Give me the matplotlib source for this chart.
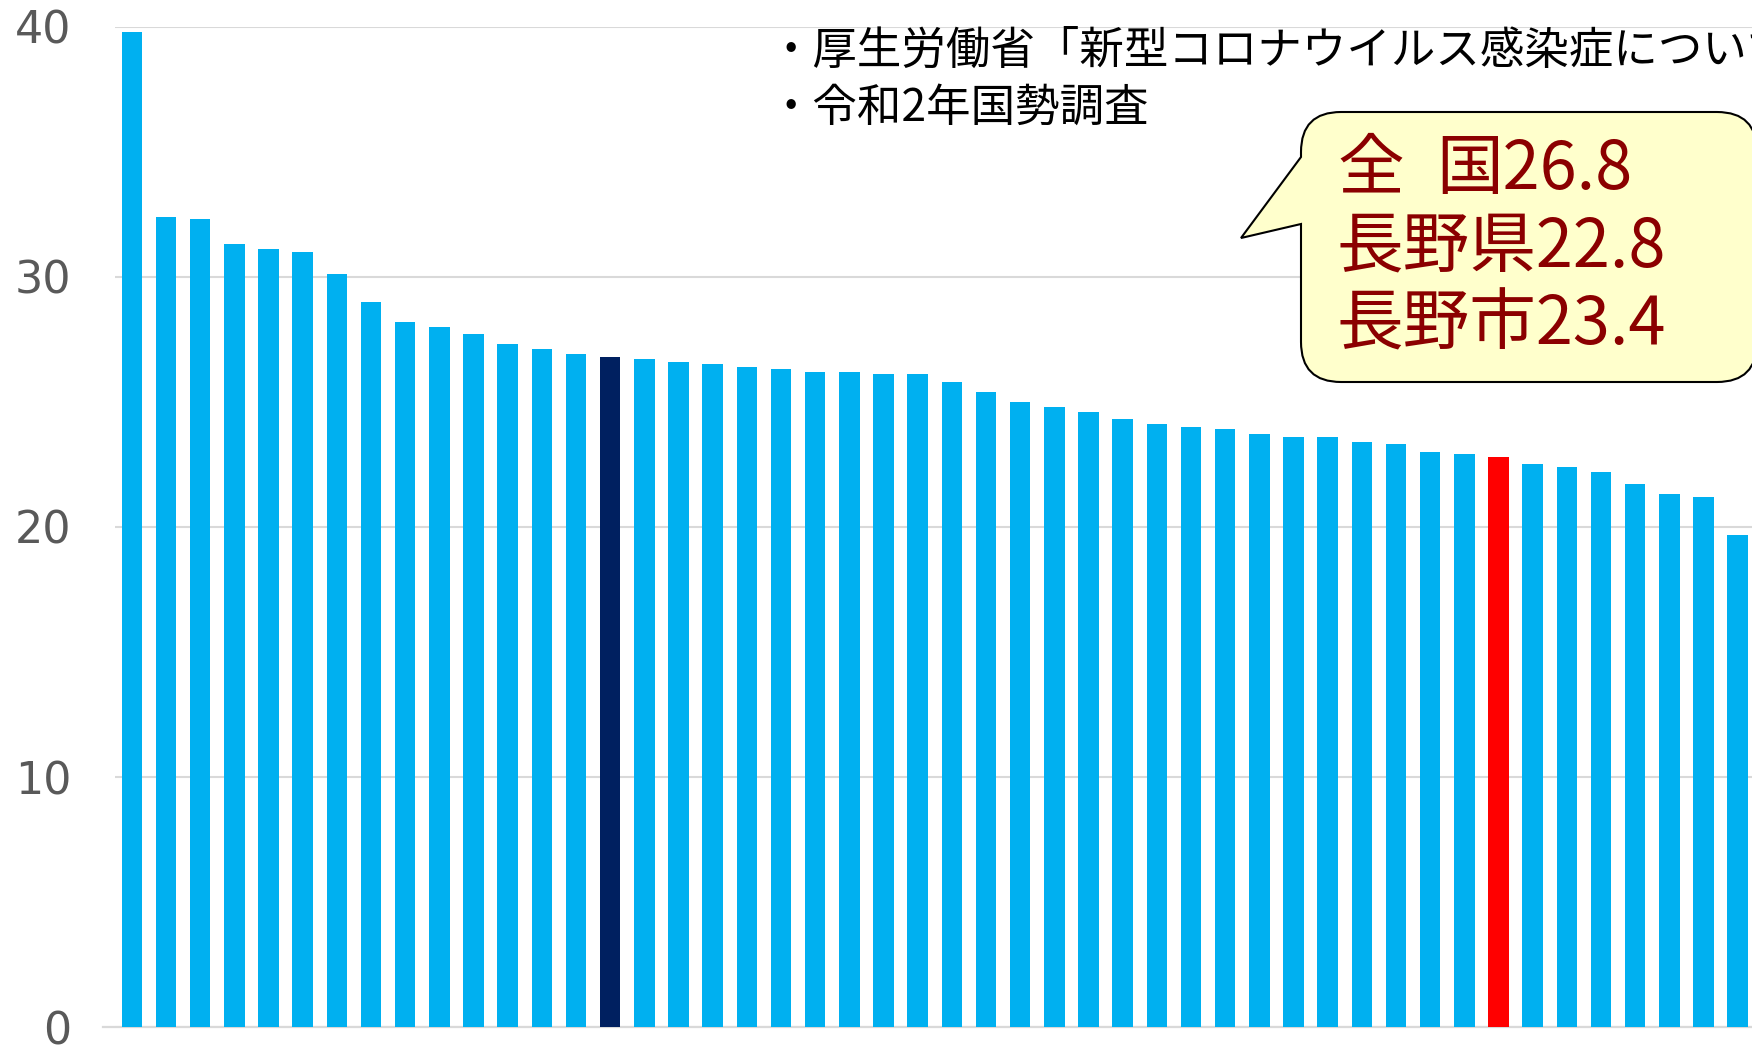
import numpy as np
import matplotlib
matplotlib.use("Agg")
import matplotlib.pyplot as plt
import matplotlib.path as mpath
import matplotlib.patches as mpatches
from matplotlib.transforms import Affine2D

plt.rcParams['font.family'] = ['Noto Sans CJK JP', 'DejaVu Sans']

# --- DATA: Werte je Präfektur (absteigend), inkl. Landesdurchschnitt ---
values = [39.8, 32.4, 32.3, 31.3, 31.1, 31.0, 30.1, 29.0, 28.2, 28.0,
          27.7, 27.3, 27.1, 26.9, 26.8, 26.7, 26.6, 26.5, 26.4, 26.3,
          26.2, 26.2, 26.1, 26.1, 25.8, 25.4, 25.0, 24.8, 24.6, 24.3,
          24.1, 24.0, 23.9, 23.7, 23.6, 23.6, 23.4, 23.3, 23.0, 22.9,
          22.8, 22.5, 22.4, 22.2, 21.7, 21.3, 21.2, 19.7]
national_idx = 14   # 全国 26.8
nagano_idx = 40     # 長野県 22.8
y_ticks = [0, 10, 20, 30, 40]
source_lines = ["・厚生労働省「新型コロナウイルス感染症について」", "・令和2年国勢調査"]
callout_names = ["全", "長野県", "長野市"]
callout_values = ["26.8", "22.8", "23.4"]

W, H = 1752, 1046
fig = plt.figure(figsize=(W / 100, H / 100), dpi=100)
ax = fig.add_axes([114.8 / W, 18.7 / H, 1640 / W, 1000.6 / H])

colors = ['#00B0F0'] * len(values)
colors[national_idx] = '#002060'
colors[nagano_idx] = '#FF0000'
x = np.arange(len(values))
ax.bar(x, values, width=0.6, color=colors, zorder=3)

ax.set_xlim(-0.5, len(values) - 0.5)
ax.set_ylim(0, 40)
ax.set_yticks(y_ticks)
ax.set_yticklabels([str(t) for t in y_ticks], fontsize=32, color='#595959',
                   family='DejaVu Sans')
ax.tick_params(axis='y', length=0, pad=31)
ax.set_xticks([])
ax.grid(axis='y', color='#D9D9D9', linewidth=1.5, zorder=0)
for s in ['top', 'right', 'left']:
    ax.spines[s].set_visible(False)
ax.spines['bottom'].set_color('#D9D9D9')
ax.spines['bottom'].set_linewidth(1.6)
ax.spines['bottom'].set_bounds(-0.85, len(values) - 0.5)

# Pixelkoordinaten (y nach unten) -> Figure
px = Affine2D().scale(1 / W, -1 / H).translate(0, 1) + fig.transFigure

# Quellenangabe (rechts abgeschnitten wie im Original)
for i, line in enumerate(source_lines):
    fig.text(768, 51 + i * 57, line, transform=px, fontsize=32,
             color='black', va='center', ha='left')

# Sprechblase
L, T, R, B, r = 1301, 112, 1757, 382, 40
tip = (1241, 238)
y1, y2 = 157, 224
verts = [(L + r, T), (R - r, T), (R, T), (R, T + r), (R, B - r), (R, B),
         (R - r, B), (L + r, B), (L, B), (L, B - r), (L, y2), tip, (L, y1),
         (L, T + r), (L, T), (L + r, T), (L + r, T)]
P = mpath.Path
codes = [P.MOVETO, P.LINETO, P.CURVE3, P.CURVE3, P.LINETO, P.CURVE3,
         P.CURVE3, P.LINETO, P.CURVE3, P.CURVE3, P.LINETO, P.LINETO,
         P.LINETO, P.LINETO, P.CURVE3, P.CURVE3, P.CLOSEPOLY]
bubble = mpatches.PathPatch(mpath.Path(verts, codes), transform=px,
                            facecolor='#FFFFCC', edgecolor='black',
                            linewidth=1.5, zorder=5)
fig.add_artist(bubble)
for i, (name, val) in enumerate(zip(callout_names, callout_values)):
    yy = 170 + i * 78
    if name == "全":
        # 全 und 国 mit Abstand (wie im Original)
        fig.text(1337, yy, "全", transform=px, fontsize=48,
                 color='#8B0000', va='center', ha='left', zorder=6)
        fig.text(1436, yy, "国" + val, transform=px, fontsize=48,
                 color='#8B0000', va='center', ha='left', zorder=6)
    else:
        fig.text(1337, yy, name + val, transform=px, fontsize=48,
                 color='#8B0000', va='center', ha='left', zorder=6)

fig.savefig("out.png", dpi=100)
